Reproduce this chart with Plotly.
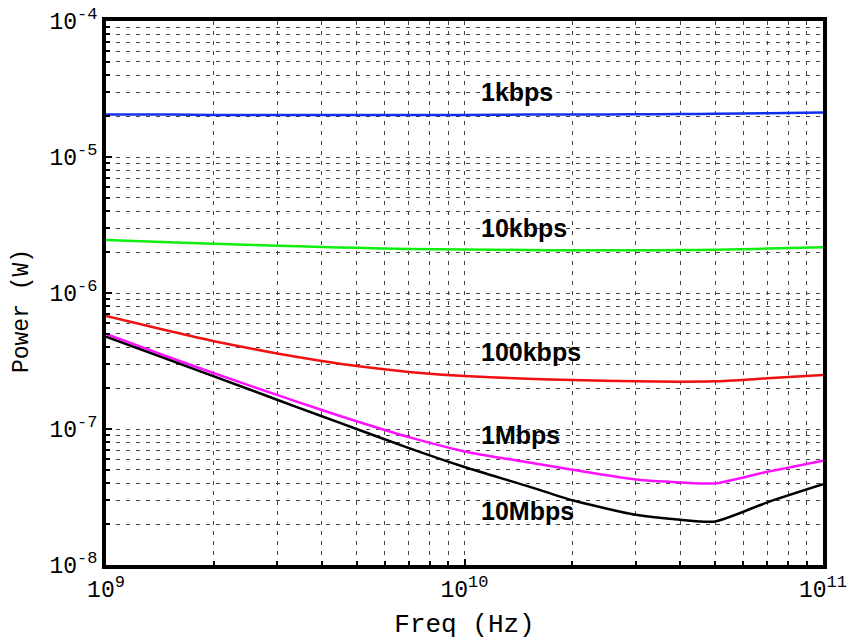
import plotly.graph_objects as go

# Frequency samples (Hz)
freq = [1e9, 1.5e9, 2e9, 3e9, 4e9, 5e9, 7e9, 1e10, 1.5e10, 2e10, 3e10, 4e10, 5e10, 7e10, 1e11]

# Required transmit power (W) for each data rate
p_1kbps = [2.05e-5, 2.05e-5, 2.04e-5, 2.04e-5, 2.04e-5, 2.04e-5, 2.04e-5, 2.04e-5,
           2.05e-5, 2.05e-5, 2.06e-5, 2.07e-5, 2.08e-5, 2.10e-5, 2.12e-5]
p_10kbps = [2.45e-6, 2.36e-6, 2.30e-6, 2.23e-6, 2.18e-6, 2.15e-6, 2.11e-6, 2.09e-6,
            2.07e-6, 2.06e-6, 2.06e-6, 2.07e-6, 2.08e-6, 2.12e-6, 2.17e-6]
p_100kbps = [6.78e-7, 5.25e-7, 4.42e-7, 3.59e-7, 3.16e-7, 2.90e-7, 2.63e-7, 2.45e-7,
             2.34e-7, 2.29e-7, 2.24e-7, 2.23e-7, 2.24e-7, 2.36e-7, 2.49e-7]
p_1mbps = [5.0e-7, 3.37e-7, 2.57e-7, 1.78e-7, 1.38e-7, 1.14e-7, 8.71e-8, 6.84e-8,
           5.69e-8, 5.01e-8, 4.25e-8, 4.05e-8, 3.98e-8, 4.85e-8, 5.85e-8]
p_10mbps = [4.78e-7, 3.22e-7, 2.44e-7, 1.64e-7, 1.24e-7, 1.00e-7, 7.23e-8, 5.25e-8,
            3.80e-8, 2.99e-8, 2.34e-8, 2.15e-8, 2.09e-8, 2.89e-8, 3.92e-8]

series = [
    ("1kbps", p_1kbps, "#1030f0"),
    ("10kbps", p_10kbps, "#10f010"),
    ("100kbps", p_100kbps, "#f01010"),
    ("1Mbps", p_1mbps, "#ff10ff"),
    ("10Mbps", p_10mbps, "#000000"),
]

# Axis tick labels
sup = "<sup><span style='font-size:17px'>{}</span></sup>"
x_tickvals = [1e9, 1e10, 1e11]
x_ticktext = ["10" + sup.format(e) for e in ("9", "10", "11")]
y_tickvals = [1e-8, 1e-7, 1e-6, 1e-5, 1e-4]
y_ticktext = ["10" + sup.format(e) for e in ("-8", "-7", "-6", "-5", "-4")]

# Label anchor positions (log10 of power) for the in-plot rate labels
label_y = [-4.52, -5.52, -6.435, -7.045, -7.605]

fig = go.Figure()
for name, vals, color in series:
    fig.add_trace(go.Scatter(x=freq, y=vals, mode="lines", name=name,
                             line=dict(color=color, width=2.5, shape="spline",
                                       smoothing=0.6)))

for (name, _, _), ly in zip(series, label_y):
    fig.add_annotation(x=10.04, y=ly, xref="x", yref="y", text="<b>" + name + "</b>",
                       showarrow=False, xanchor="left", yanchor="middle",
                       font=dict(family="Liberation Sans", size=25, color="black"))

# Vertical axis title, set a little further out than the automatic position
fig.add_annotation(x=-0.117, y=0.467, xref="paper", yref="paper", text="Power (W)",
                   textangle=-90, showarrow=False, xanchor="center", yanchor="middle",
                   font=dict(family="Liberation Mono", size=23, color="black"))

minor_x = [m * 10 ** e for e in (9, 10) for m in range(2, 10)]
minor_y = [m * 10.0 ** e for e in (-8, -7, -6, -5) for m in range(2, 10)]

grid_color = "#444444"
axis_common = dict(
    showline=True, linewidth=4, linecolor="black", mirror=True,
    ticks="inside", ticklen=6, tickwidth=2, tickcolor="black",
    showgrid=True, gridcolor=grid_color, gridwidth=1, griddash="4px,6px",
    tickmode="array", automargin=False,
    tickfont=dict(family="Liberation Mono", size=23, color="black"),
    zeroline=False,
)
minor_common = dict(tickmode="array", ticks="inside", ticklen=4, tickwidth=1.5,
                    tickcolor="black", showgrid=True, gridcolor=grid_color,
                    gridwidth=1, griddash="4px,6px")

fig.update_xaxes(type="log", range=[9, 11], **axis_common,
                 tickvals=x_tickvals, ticktext=x_ticktext,
                 minor=dict(tickvals=minor_x, **minor_common),
                 title=dict(text="Freq (Hz)", standoff=12,
                            font=dict(family="Liberation Mono", size=26, color="black")))
fig.update_yaxes(type="log", range=[-8, -4], **axis_common,
                 tickvals=y_tickvals, ticktext=y_ticktext,
                 minor=dict(tickvals=minor_y, **minor_common))

fig.update_layout(
    width=853, height=643,
    margin=dict(l=106, r=30, t=21, b=78),
    plot_bgcolor="white", paper_bgcolor="white",
    showlegend=False,
)

fig.write_html("out.html")
